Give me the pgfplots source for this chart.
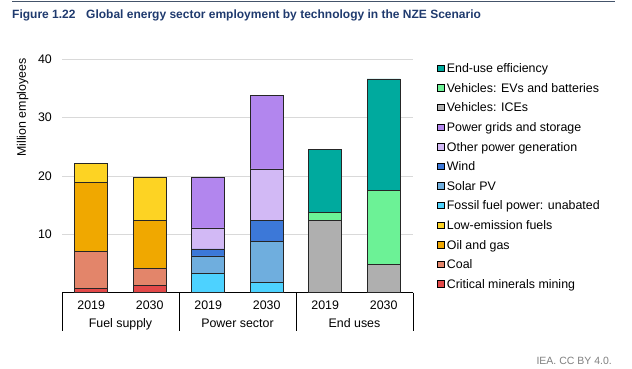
\documentclass[border=0pt]{standalone}
\usepackage{fontspec}
\setmainfont{Liberation Sans}
\usepackage{pgfplots}
\pgfplotsset{compat=1.18}
\definecolor{cEff}{HTML}{00AA9E}
\definecolor{cEV}{HTML}{6CF296}
\definecolor{cICE}{HTML}{AFAFAF}
\definecolor{cGrid}{HTML}{B286EE}
\definecolor{cOther}{HTML}{D2B9F5}
\definecolor{cWind}{HTML}{3C78D8}
\definecolor{cSolar}{HTML}{6FAEDE}
\definecolor{cFossil}{HTML}{4DD2FF}
\definecolor{cLow}{HTML}{FDD323}
\definecolor{cOil}{HTML}{F0A800}
\definecolor{cCoal}{HTML}{E3856A}
\definecolor{cCrit}{HTML}{E34949}
\definecolor{titleblue}{HTML}{1F3A6E}
\definecolor{titleline}{HTML}{44546A}
\definecolor{gridgray}{HTML}{D9D9D9}
\definecolor{footgray}{HTML}{7F7F7F}
\newcommand{\myfont}{\fontsize{12.4}{14}\selectfont}
\begin{document}
\begin{tikzpicture}[font=\myfont]
\useasboundingbox (0,0) rectangle (632pt,369pt);
\draw[color=titleline, line width=1pt] (12pt,367.5pt) -- (615pt,367.5pt);
\node[anchor=base west, inner sep=0pt, font=\fontsize{12}{14}\selectfont\bfseries, text=titleblue] at (12pt,350pt) {Figure 1.22};
\node[anchor=base west, inner sep=0pt, font=\fontsize{12}{14}\selectfont\bfseries, text=titleblue] at (86pt,350pt) {Global energy sector employment by technology in the NZE Scenario};
\node[anchor=base east, inner sep=0pt, text=footgray, font=\fontsize{10.5}{12}\selectfont] at (612pt,4pt) {IEA. CC BY 4.0.};
\begin{axis}[
  at={(62pt,76.3pt)}, anchor=south west,
  scale only axis, width=351pt, height=233.4pt,
  ybar stacked, bar width=33pt,
  xmin=-0.5, xmax=5.5, ymin=0, ymax=40,
  xtick={0,...,5}, xticklabels={2019,2030,2019,2030,2019,2030},
  ytick={10,20,30,40},
  axis line style={draw=none},
  major tick length=0pt,
  ymajorgrids, grid style={color=gridgray, line width=0.8pt},
  clip=false,
  tick label style={font=\myfont},
  label style={font=\myfont},
  xticklabel style={anchor=base, yshift=-16.6pt, inner sep=0pt},
  yticklabel style={anchor=east, inner sep=0pt, xshift=-10pt},
  /pgf/number format/assume math mode=true,
  ylabel={Million employees},
  ylabel style={at={(axis description cs:-0.112,0.7935)}, anchor=center},
  legend style={at={(axis description cs:1.0684,0.9803)}, anchor=north west, draw=none, fill=none, inner sep=0pt, outer sep=0pt, row sep=8.4pt, font=\myfont, nodes={inner sep=0pt, text height=8.8pt, text depth=2.4pt}, /tikz/every odd column/.append style={column sep=3pt}},
  reverse legend,
  legend cell align=left,
  every axis plot/.append style={draw=black!85, line width=0.55pt},
  legend image code/.code={\draw[#1, draw=black, line width=0.4pt] (0pt,-2pt) rectangle (6.5pt,4.5pt);},
]
\addplot[fill=cCrit] coordinates {(0,0.75) (1,1.27) (2,0) (3,0) (4,0) (5,0)};
\addplot[fill=cCoal] coordinates {(0,6.35) (1,2.83) (2,0) (3,0) (4,0) (5,0)};
\addplot[fill=cOil] coordinates {(0,11.8) (1,8.3) (2,0) (3,0) (4,0) (5,0)};
\addplot[fill=cLow] coordinates {(0,3.3) (1,7.35) (2,0) (3,0) (4,0) (5,0)};
\addplot[fill=cFossil] coordinates {(0,0) (1,0) (2,3.3) (3,1.83) (4,0) (5,0)};
\addplot[fill=cSolar] coordinates {(0,0) (1,0) (2,3.0) (3,6.97) (4,0) (5,0)};
\addplot[fill=cWind] coordinates {(0,0) (1,0) (2,1.2) (3,3.6) (4,0) (5,0)};
\addplot[fill=cOther] coordinates {(0,0) (1,0) (2,3.6) (3,8.8) (4,0) (5,0)};
\addplot[fill=cGrid] coordinates {(0,0) (1,0) (2,8.65) (3,12.6) (4,0) (5,0)};
\addplot[fill=cICE] coordinates {(0,0) (1,0) (2,0) (3,0) (4,12.4) (5,4.86)};
\addplot[fill=cEV] coordinates {(0,0) (1,0) (2,0) (3,0) (4,1.37) (5,12.67)};
\addplot[fill=cEff] coordinates {(0,0) (1,0) (2,0) (3,0) (4,10.8) (5,19.1)};
\legend{Critical minerals mining, Coal, Oil and gas, Low-emission fuels, Fossil fuel power: unabated, Solar PV, Wind, Other power generation, Power grids and storage, Vehicles: ICEs, Vehicles: EVs and batteries, End-use efficiency}
\draw[black, line width=0.8pt] (axis cs:-0.5,0) -- (axis cs:5.5,0);
\draw[black, line width=0.8pt] (axis cs:-0.5,0) -- ++(0pt,-38pt);
\draw[black, line width=0.8pt] (axis cs:1.5,0) -- ++(0pt,-38pt);
\draw[black, line width=0.8pt] (axis cs:3.5,0) -- ++(0pt,-38pt);
\draw[black, line width=0.8pt] (axis cs:5.5,0) -- ++(0pt,-38pt);
\node[anchor=base, inner sep=0pt, yshift=-34.6pt] at (axis cs:0.5,0) {Fuel supply};
\node[anchor=base, inner sep=0pt, yshift=-34.6pt] at (axis cs:2.5,0) {Power sector};
\node[anchor=base, inner sep=0pt, yshift=-34.6pt] at (axis cs:4.5,0) {End uses};
\end{axis}
\end{tikzpicture}
\end{document}
